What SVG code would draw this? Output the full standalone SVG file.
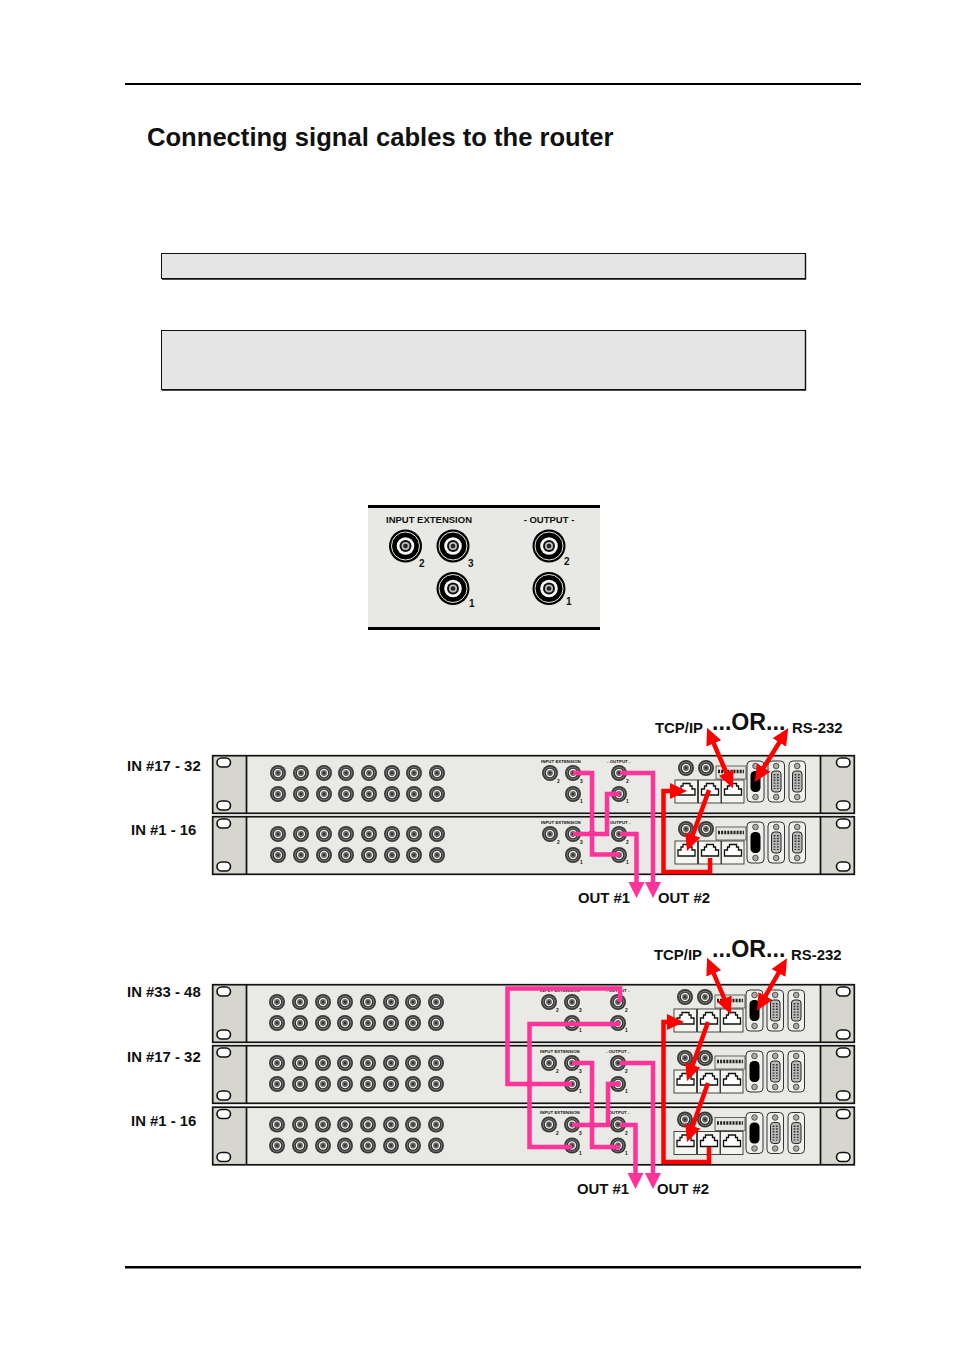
<svg xmlns="http://www.w3.org/2000/svg" xmlns:xlink="http://www.w3.org/1999/xlink" width="954" height="1350" viewBox="0 0 954 1350">
<style>
text{font-family:"Liberation Sans",Arial,sans-serif;font-weight:bold;fill:#111}
.lab{font-size:14.9px}
.or{font-size:23.2px}
.tiny{font-size:4.4px}
.num{font-size:4.8px}
.pink{fill:none;stroke:#ff3399;stroke-width:4.5;stroke-linejoin:miter}
.red{fill:none;stroke:#ff0000;stroke-width:4.5;stroke-linejoin:miter}
.box{fill:#e5e5e5;stroke:#111;stroke-width:1}
.sh{fill:none;stroke:#111;stroke-width:1.7}
.rule{fill:#000}
.ear{fill:#d6d6ce}
.slot{fill:#fff;stroke:#111;stroke-width:1.6}
.rj{fill:#f4f4f1;stroke:#333;stroke-width:.9}
.jack{fill:#fff;stroke:#111;stroke-width:1.3}
.ser{fill:#efefeb;stroke:#333;stroke-width:1}
</style>
<defs>
<marker id="hp" markerUnits="userSpaceOnUse" markerWidth="18" markerHeight="18" refX="4" refY="8" orient="auto"><path d="M0 0L16 8L0 16Z" fill="#ff3399"/></marker>
<marker id="hr" markerUnits="userSpaceOnUse" markerWidth="19" markerHeight="18" refX="7" refY="8" orient="auto-start-reverse"><path d="M0 0L17 8L0 16Z" fill="#ff0000"/></marker>
<g id="bnc"><circle r="8" fill="#3a3a3a"/><circle r="6.3" fill="#777"/><circle r="5.3" fill="#2a2a2a"/><circle r="4.2" fill="#eeeeea"/><circle r="2.9" fill="#666"/><circle r="1.3" fill="#333"/></g>
<g id="bncb"><circle r="16.5" fill="#000"/><circle r="14" fill="none" stroke="#fff" stroke-width=".9"/><circle r="8.8" fill="#f6f6f2"/><circle r="6" fill="#111"/><circle r="4" fill="#bbb"/><circle r="2.3" fill="#222"/></g>
<g id="jackbox"><rect class="rj" x="0" y="0" width="22.5" height="23"/><path class="jack" d="M3 15V9H6V6H8V3.500H15V6H17V9H20V15Z"/></g>
<g id="dsub"><rect class="ser" x="0" y="0" width="16.5" height="41" rx="4"/><circle cx="8.2" cy="5" r="2.8" fill="#aaa" stroke="#333" stroke-width=".8"/><circle cx="8.2" cy="36" r="2.8" fill="#aaa" stroke="#333" stroke-width=".8"/><rect x="3.5" y="10" width="9.5" height="21" rx="3" fill="#bbb" stroke="#222" stroke-width="1"/><path d="M6.5 13V28M9.8 13V28" stroke="#333" stroke-width="1.8" stroke-dasharray="1.4 1.4"/></g>
<g id="shell">
<rect x="213" y="755.5" width="641" height="58" fill="#e9e9e5"/>
<rect class="ear" x="213" y="756" width="33" height="57"/><rect class="ear" x="820" y="756" width="34" height="57"/>
<rect class="sh" x="212.7" y="755.7" width="641.6" height="57.6"/>
<path class="sh" d="M246.5 756V813M820.5 756V813"/>
<rect class="slot" x="217" y="758" width="13.5" height="9" rx="4.5"/><rect class="slot" x="217" y="801" width="13.5" height="9" rx="4.5"/>
<rect class="slot" x="836.5" y="758" width="13.5" height="9" rx="4.5"/><rect class="slot" x="836.5" y="801" width="13.5" height="9" rx="4.5"/>
</g>
<g id="parts">
<use href="#bnc" x="278" y="773"/><use href="#bnc" x="301" y="773"/><use href="#bnc" x="324" y="773"/><use href="#bnc" x="346" y="773"/><use href="#bnc" x="369" y="773"/><use href="#bnc" x="392" y="773"/><use href="#bnc" x="414" y="773"/><use href="#bnc" x="437" y="773"/>
<use href="#bnc" x="278" y="794"/><use href="#bnc" x="301" y="794"/><use href="#bnc" x="324" y="794"/><use href="#bnc" x="346" y="794"/><use href="#bnc" x="369" y="794"/><use href="#bnc" x="392" y="794"/><use href="#bnc" x="414" y="794"/><use href="#bnc" x="437" y="794"/>
<use href="#bnc" x="550" y="773"/><use href="#bnc" x="573" y="773"/><use href="#bnc" x="573" y="794"/><use href="#bnc" x="619" y="773"/><use href="#bnc" x="619" y="794"/>
<text class="tiny" x="541" y="762.500">INPUT EXTENSION</text><text class="tiny" x="607" y="762.500">- OUTPUT -</text>
<text class="num" x="557" y="783">2</text><text class="num" x="580" y="783">3</text><text class="num" x="580" y="803">1</text><text class="num" x="626" y="783">2</text><text class="num" x="626" y="803">1</text>
<use href="#bnc" x="686" y="768"/><use href="#bnc" x="706" y="768"/>
<rect x="716" y="766" width="30" height="13" fill="#e4e4e0" stroke="#444" stroke-width=".8"/>
<path d="M718 771.500H744" stroke="#222" stroke-width="3.5" stroke-dasharray="2 1.1"/>
<use href="#jackbox" x="675" y="780"/><use href="#jackbox" x="698.500" y="780"/><use href="#jackbox" x="721.500" y="780"/>
<rect class="ser" x="747" y="761" width="17" height="41" rx="4"/><circle cx="755.500" cy="766" r="2.8" fill="#aaa" stroke="#333" stroke-width=".8"/><circle cx="755.500" cy="797" r="2.8" fill="#aaa" stroke="#333" stroke-width=".8"/><rect x="750.500" y="771" width="10" height="21" rx="4.5" fill="#000"/>
<use href="#dsub" x="768" y="761"/><use href="#dsub" x="789" y="761"/>
</g>
</defs>

<g id="page-rules"><rect class="rule" x="125" y="83" width="736" height="2"/><rect class="rule" x="125" y="1266" width="736" height="2.5"/></g>
<g id="title"><text x="147" y="146" font-size="25.600">Connecting signal cables to the router</text></g>
<g id="note-box-1"><rect class="box" x="161.500" y="253.500" width="644" height="25"/><path d="M805.500 254V279H162" fill="none" stroke="#111" stroke-width="1.4"/></g>
<g id="note-box-2"><rect class="box" x="161.500" y="330.500" width="644" height="59"/><path d="M805.500 331V390H162" fill="none" stroke="#111" stroke-width="1.4"/></g>

<g id="panel-detail">
<rect x="368" y="505" width="232" height="125" fill="#e8e8e4"/>
<rect x="368" y="505" width="232" height="3" fill="#000"/><rect x="368" y="627" width="232" height="3" fill="#000"/>
<use href="#bncb" x="405.500" y="546"/><use href="#bncb" x="453" y="546"/><use href="#bncb" x="453" y="588.500"/><use href="#bncb" x="549" y="546"/><use href="#bncb" x="549" y="588.500"/>
<text x="429" y="523" font-size="9" text-anchor="middle" textLength="86" lengthAdjust="spacingAndGlyphs">INPUT EXTENSION</text>
<text x="549" y="523" font-size="9.500" text-anchor="middle">- OUTPUT -</text>
<text x="419" y="567" font-size="10">2</text><text x="468" y="567" font-size="10">3</text><text x="469" y="607" font-size="10">1</text><text x="564" y="565" font-size="10">2</text><text x="566" y="605" font-size="10">1</text>
</g>

<g id="rack-a1"><use href="#shell"/><use href="#parts"/></g>
<g id="rack-a2"><use href="#shell" y="61"/><use href="#parts" y="61"/></g>
<g id="rack-b1"><use href="#shell" y="229"/><use href="#parts" x="-1" y="229"/></g>
<g id="rack-b2"><use href="#shell" y="290"/><use href="#parts" x="-1" y="290"/></g>
<g id="rack-b3"><use href="#shell" y="351.500"/><use href="#parts" x="-1" y="351.500"/></g>

<g id="labels-a">
<text class="lab" x="127" y="771">IN #17 - 32</text><text class="lab" x="131" y="835">IN #1 - 16</text>
<text class="lab" x="655" y="733">TCP/IP</text><text class="or" x="712" y="730">...OR...</text><text class="lab" x="792" y="733">RS-232</text>
<text class="lab" x="578" y="903">OUT #1</text><text class="lab" x="658" y="903">OUT #2</text>
</g>
<g id="labels-b">
<text class="lab" x="127" y="997">IN #33 - 48</text><text class="lab" x="127" y="1062">IN #17 - 32</text><text class="lab" x="131" y="1126">IN #1 - 16</text>
<text class="lab" x="654" y="960">TCP/IP</text><text class="or" x="712" y="957">...OR...</text><text class="lab" x="791" y="960">RS-232</text>
<text class="lab" x="577" y="1194">OUT #1</text><text class="lab" x="657" y="1194">OUT #2</text>
</g>

<g id="connectors">
<path class="pink" d="M573 773H592V854.500H620"/>
<path class="pink" d="M573 834H607V794H620"/>
<path class="pink" d="M620 773H653V886" marker-end="url(#hp)"/>
<path class="pink" d="M620 834H636.500V886" marker-end="url(#hp)"/>
<circle cx="592" cy="833" r="3.200" fill="#ff3399"/>
<path class="red" d="M711 737L729 779" marker-start="url(#hr)" marker-end="url(#hr)"/>
<path class="red" d="M783 736.500L760 773.500" marker-start="url(#hr)" marker-end="url(#hr)"/>
<path class="red" d="M709 790L690.400 841.600" marker-end="url(#hr)"/>
<path class="red" d="M710 858V872H663.500V791H677" marker-end="url(#hr)"/>

<path class="pink" d="M620 1002V988.500H507.500V1084H572"/>
<path class="pink" d="M620 1024H529.500V1147H572"/>
<path class="pink" d="M572 1063H592V1147H620"/>
<path class="pink" d="M572 1125H608V1084H620"/>
<path class="pink" d="M620 1063H653V1177" marker-end="url(#hp)"/>
<path class="pink" d="M620 1125H635.500V1177" marker-end="url(#hp)"/>
<circle cx="529.500" cy="1084" r="3.200" fill="#ff3399"/><circle cx="592" cy="1125" r="3.200" fill="#ff3399"/>
<path class="red" d="M711 967L727 1005" marker-start="url(#hr)" marker-end="url(#hr)"/>
<path class="red" d="M782 967L762 1002" marker-start="url(#hr)" marker-end="url(#hr)"/>
<path class="red" d="M708 1022L690.400 1071.600" marker-end="url(#hr)"/>
<path class="red" d="M708 1083L690.400 1132.600" marker-end="url(#hr)"/>
<path class="red" d="M709 1147V1162H663.500V1022H674" marker-end="url(#hr)"/>
</g>
</svg>
